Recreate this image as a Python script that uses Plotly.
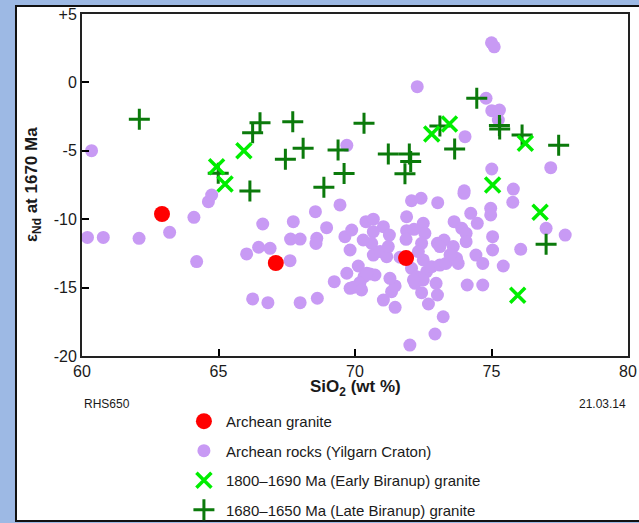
import plotly.graph_objects as go

# ---- data ----
granite_x = [62.93, 67.10, 71.87]
granite_y = [-9.62, -13.2, -12.84]

rocks_x = [60.35, 60.2, 60.78, 62.09, 63.21, 64.1, 64.2, 64.63, 64.75, 66.03, 66.47, 66.89, 66.62,
           67.62, 67.74, 67.64, 67.99, 68.55, 68.96, 68.6, 68.57, 69.45, 69.63, 69.82, 69.7, 69.24,
           69.82, 66.25, 66.81, 67.99, 68.62, 69.7,
           75.0, 75.1, 72.28, 74.8, 75.01, 75.29, 75.25, 74.03, 75.01, 77.17, 74.0, 75.8, 75.78,
           73.99, 72.07, 72.42, 73.03, 74.97, 74.97, 74.24, 74.48, 73.63, 73.91, 74.07, 74.07,
           75.04, 75.04, 76.07, 77.0, 77.7, 74.43, 74.68, 75.43, 74.11, 74.68, 73.23, 72.93, 72.01,
           72.69, 73.02, 72.44, 71.47, 71.04, 71.34, 71.47, 70.55, 70.73, 69.94, 70.12, 70.33,
           69.88, 70.4, 70.67, 71.04, 70.67, 71.26, 70.3, 70.61, 70.67, 70.92, 71.16, 71.22, 71.89,
           71.89, 71.87, 72.5, 72.56, 72.44, 72.5, 72.07, 72.62, 72.26, 72.2, 72.5, 72.97, 72.81,
           73.11, 73.33, 73.02, 73.26, 73.11, 73.6, 73.72, 73.78, 72.16, 71.65, 70.18, 70.43,
           71.28, 72.14, 72.32, 73.48, 70.24]
rocks_y = [-4.99, -11.33, -11.33, -11.4, -10.96, -9.86, -13.1, -8.72, -8.23, -12.54, -12.05, -12.13, -10.35,
           -13.03, -10.18, -11.45, -11.45, -9.45, -10.62, -11.4, -11.77, -8.96, -11.28, -12.25, -13.95, -14.57,
           -15.05, -15.83, -16.1, -16.1, -15.78, -4.6,
           2.9, 2.6, -0.31, -1.16, -2.07, -2.02, -2.75, -3.97, -6.33, -6.23, -7.92, -7.8, -8.76,
           -8.11, -8.65, -8.47, -8.79, -9.2, -9.69, -9.57, -10.3, -10.18, -10.67, -11.03, -11.64,
           -11.28, -12.25, -12.2, -10.67, -11.16, -12.62, -13.23, -13.42, -14.81, -14.81, -17.13, -18.39, -19.2,
           -16.2, -15.54, -15.37, -16.44, -15.91, -15.3, -14.88, -14.0, -14.08, -14.98, -13.42, -14.2,
           -10.79, -10.18, -10.0, -10.55, -10.91, -11.16, -11.52, -11.76, -12.62, -12.37, -12.74, -12.0, -9.82,
           -10.84, -11.47, -10.3, -11.03, -11.76, -12.98, -13.59, -13.84, -14.2, -14.69, -14.44, -14.69, -13.47,
           -13.35, -13.23, -11.76, -11.52, -12.0, -12.0, -12.86, -13.23, -10.74, -12.78, -14.64, -13.95,
           -14.32, -14.44, -12.37, -12.6, -15.17]

early_x = [64.93, 65.24, 65.93, 72.81, 73.46, 75.04, 76.24, 76.78, 75.96]
early_y = [-6.16, -7.43, -4.99, -3.77, -3.04, -7.5, -4.45, -9.5, -15.56]

late_x = [62.1, 64.99, 66.15, 66.25, 66.52, 67.45, 67.72, 68.1, 68.86, 69.38, 69.6, 70.33,
          71.22, 71.83, 71.99, 72.04, 73.11, 73.65, 74.46, 75.29, 75.3, 76.12, 77.0, 77.46]
late_y = [-2.7, -6.65, -7.94, -3.68, -2.95, -5.62, -2.87, -4.82, -7.67, -4.94, -6.66, -2.99,
          -5.23, -6.67, -5.23, -5.79, -3.19, -4.87, -1.16, -3.15, -3.4, -3.85, -11.84, -4.6]

x_ticks = [60, 65, 70, 75, 80]
y_ticks = [-20, -15, -10, -5, 0, 5]
y_tick_text = ["-20", "-15", "-10", "-5", "0", "+5"]

FONT = "Liberation Sans, Arial, sans-serif"
TXT = "#1a1a1a"

fig = go.Figure()
fig.add_trace(go.Scatter(x=rocks_x, y=rocks_y, mode="markers", name="Archean rocks (Yilgarn Craton)",
                         marker=dict(color="#c89af4", size=13, line=dict(width=0)),
                         legendgroup="b", legendrank=2))
fig.add_trace(go.Scatter(x=granite_x, y=granite_y, mode="markers", name="Archean granite",
                         marker=dict(color="#ff0000", size=16, line=dict(width=0)),
                         legendgroup="a", legendrank=1))
fig.add_trace(go.Scatter(x=late_x, y=late_y, mode="markers", name="1680–1650 Ma (Late Biranup) granite",
                         marker=dict(symbol="cross-thin-open", color="#0b7a0b", size=15,
                                     line=dict(color="#0b7a0b", width=3)),
                         legendgroup="d", legendrank=4))
fig.add_trace(go.Scatter(x=early_x, y=early_y, mode="markers", name="1800–1690 Ma (Early Biranup) granite",
                         marker=dict(symbol="x-thin-open", color="#00ee00", size=15,
                                     line=dict(color="#00ee00", width=3.5)),
                         legendgroup="c", legendrank=3))

fig.update_layout(
    width=639, height=523,
    margin=dict(l=82, r=11, t=14, b=167, autoexpand=False),
    paper_bgcolor="#9db9e4",
    plot_bgcolor="white",
    font=dict(family=FONT, color=TXT),
    showlegend=True,
    legend=dict(x=0.183, y=-0.143, xanchor="left", yanchor="top",
                font=dict(size=15, color=TXT, family=FONT),
                bgcolor="rgba(0,0,0,0)", traceorder="grouped", tracegroupgap=7,
                itemsizing="trace", itemwidth=34),
    xaxis=dict(range=[60, 80], tickvals=x_ticks, ticks="inside", ticklen=7, tickwidth=1.5,
               tickcolor="black", showline=True, linecolor="#222", linewidth=2, mirror=True,
               showgrid=False, zeroline=False, automargin=False, tickfont=dict(size=16, color=TXT)),
    yaxis=dict(range=[-20, 5], tickvals=y_ticks, ticktext=y_tick_text, ticks="inside", ticklen=7,
               tickwidth=1.5, tickcolor="black", showline=True, linecolor="#222", linewidth=2,
               mirror=True, showgrid=False, zeroline=False, automargin=False,
               tickfont=dict(size=16, color=TXT)),
    shapes=[dict(type="rect", xref="paper", yref="paper", x0=-0.1209, x1=1.03, y0=-0.4825, y1=1.0234,
                 fillcolor="white", line=dict(color="#111", width=2), layer="below")],
    annotations=[
        dict(text="<b>SiO<sub>2</sub> (wt %)</b>", xref="paper", yref="paper", x=0.5, y=-0.094,
             xanchor="center", yanchor="middle", showarrow=False, font=dict(size=17, color=TXT)),
        dict(text="<b>ε<sub>Nd</sub> at 1670 Ma</b>", xref="paper", yref="paper", x=-0.0897, y=0.5,
             xanchor="center", yanchor="middle",
             textangle=-90, showarrow=False, font=dict(size=17, color=TXT)),
        dict(text="RHS650", xref="paper", yref="paper", x=0.0, y=-0.14, xanchor="left",
             yanchor="middle", showarrow=False, font=dict(size=12, color=TXT)),
        dict(text="21.03.14", xref="paper", yref="paper", x=1.0, y=-0.14, xanchor="right",
             yanchor="middle", showarrow=False, font=dict(size=12, color=TXT)),
    ],
)

fig.write_html("out.html")
